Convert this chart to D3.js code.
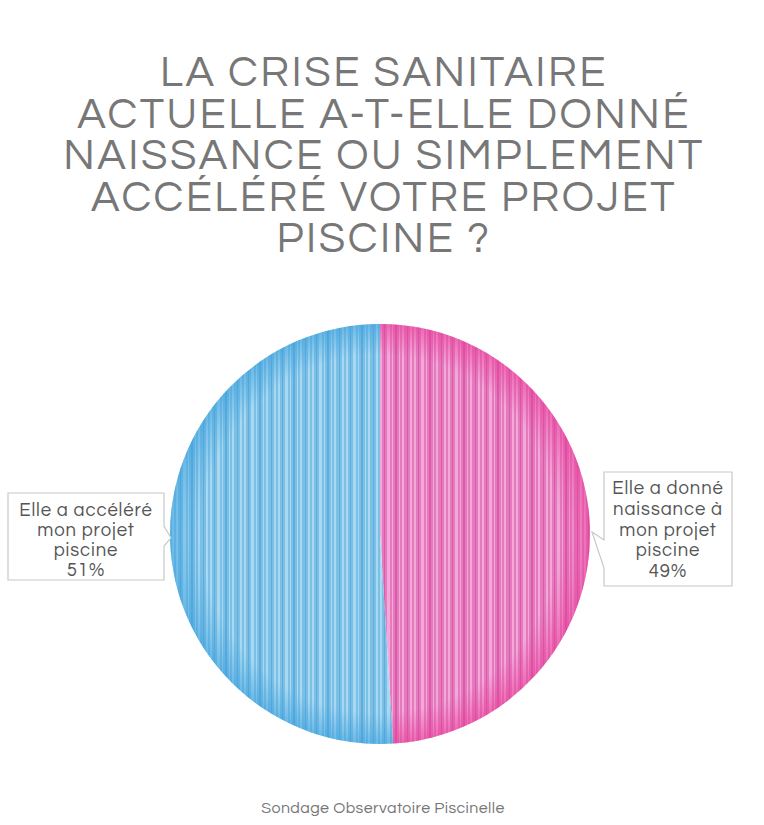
<!DOCTYPE html>
<html><head><meta charset="utf-8">
<script src="https://cdn.jsdelivr.net/npm/d3@7"></script>
<style>body{margin:0;background:#fff}svg{display:block}</style>
</head><body>
<div id="chart"></div>
<script>
const titleLines = ["LA CRISE SANITAIRE","ACTUELLE A-T-ELLE DONNÉ","NAISSANCE OU SIMPLEMENT","ACCÉLÉRÉ VOTRE PROJET","PISCINE ?"];
const categories = ["Elle a donné naissance à mon projet piscine","Elle a accéléré mon projet piscine"];
const values = [49, 51];
const labelLines = [["Elle a donné","naissance à","mon projet","piscine","49%"],["Elle a accéléré","mon projet","piscine","51%"]];
const source = "Sondage Observatoire Piscinelle";

const W = 764, H = 825;
const cx = 380, cy = 534, R = 210;
const FONT = "'Questrial','Open Sans','Noto Sans',sans-serif";
const svg = d3.select("#chart").append("svg").attr("width", W).attr("height", H);
const defs = svg.append("defs");

const palettes = [
  {base:"#e47bbf", light:"#f3a8d8", dark:"#dc5aa8", edge:"#e8409a"},
  {base:"#7dc0e6", light:"#a9d9f2", dark:"#5cade0", edge:"#3fa2dd"}
];
const stripeSpec = [[0,2,"light"],[4,1,"dark"],[7,3,"light"],[12,1,"light"],[15,2,"dark"],[19,1,"light"],[22,2,"light"],[27,1,"dark"],[30,2,"light"]];
palettes.forEach((p,i)=>{
  const pat = defs.append("pattern").attr("id","stripe"+i).attr("patternUnits","userSpaceOnUse")
    .attr("width",34).attr("height",10);
  pat.append("rect").attr("width",34).attr("height",10).attr("fill",p.base);
  stripeSpec.forEach(s=>pat.append("rect").attr("x",s[0]).attr("width",s[1]).attr("height",10).attr("fill",p[s[2]]));
  const rg = defs.append("radialGradient").attr("id","edge"+i).attr("cx",0).attr("cy",0).attr("r",R).attr("gradientUnits","userSpaceOnUse");
  rg.append("stop").attr("offset","0.85").attr("stop-color",p.edge).attr("stop-opacity",0);
  rg.append("stop").attr("offset","1").attr("stop-color",p.edge).attr("stop-opacity",0.6);
});

// Title
const title = svg.append("g").attr("font-family",FONT)
  .attr("fill","#777").attr("font-size",43).attr("letter-spacing",2.5).attr("text-anchor","middle");
titleLines.forEach((t,i)=>title.append("text").attr("x",384).attr("y",86+i*41.5).text(t));

// Pie
const pie = d3.pie().sort(null).value(d=>d).startAngle(0).endAngle(2*Math.PI);
const arcs = pie(values);
const arc = d3.arc().innerRadius(0).outerRadius(R);
const g = svg.append("g").attr("transform",`translate(${cx},${cy})`);
g.selectAll("path.slice").data(arcs).join("path").attr("class","slice")
  .attr("d",arc).attr("fill",(d,i)=>`url(#stripe${i})`);
g.selectAll("path.edge").data(arcs).join("path").attr("class","edge")
  .attr("d",arc).attr("fill",(d,i)=>`url(#edge${i})`);

// Callouts
const rb = {x0:604,x1:732,y0:472,y1:586};
svg.append("path").attr("fill","#fff").attr("stroke","#c8c8c8").attr("stroke-width",1.2)
  .attr("d",`M${rb.x0},${rb.y0}H${rb.x1}V${rb.y1}H${rb.x0}V568L592,532L${rb.x0},540Z`);
const lb = {x0:8,x1:164,y0:493,y1:580};
svg.append("path").attr("fill","#fff").attr("stroke","#c8c8c8").attr("stroke-width",1.2)
  .attr("d",`M${lb.x0},${lb.y0}H${lb.x1}V526L171,538L${lb.x1},546V${lb.y1}H${lb.x0}Z`);

const lab = svg.append("g").attr("font-family",FONT)
  .attr("fill","#555").attr("font-size",18.5).attr("letter-spacing",0.9).attr("text-anchor","middle");
labelLines[0].forEach((t,i)=>lab.append("text").attr("x",668).attr("y",494+i*20.8).text(t));
labelLines[1].forEach((t,i)=>lab.append("text").attr("x",86).attr("y",516+i*20).text(t));

// Source
svg.append("text").attr("x",383).attr("y",813).attr("text-anchor","middle")
  .attr("font-family",FONT).attr("font-size",16).attr("letter-spacing",0.4)
  .attr("fill","#777").text(source);
</script>
</body></html>
